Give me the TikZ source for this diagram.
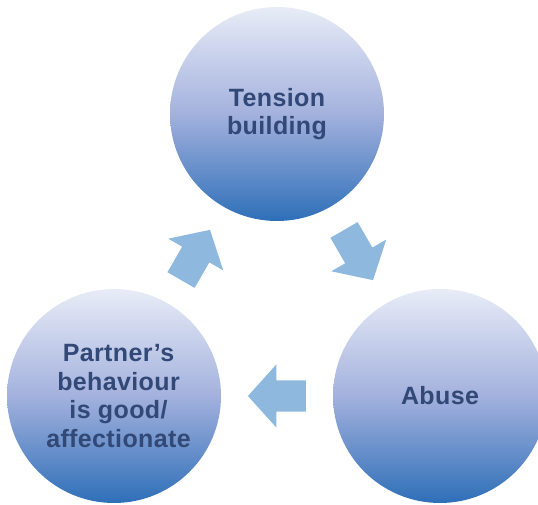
\documentclass[tikz,border=0pt]{standalone}
\usepackage{fontspec}
\setmainfont{Liberation Sans}[LetterSpace=1.5]
\usetikzlibrary{shapes.arrows,calc}
\definecolor{phasetop}{RGB}{232,236,247}
\definecolor{phasemid}{RGB}{163,177,221}
\definecolor{phasebot}{RGB}{46,111,184}
\definecolor{phasetext}{RGB}{50,72,118}
\definecolor{turnblue}{RGB}{143,184,222}

\begin{document}
\begin{tikzpicture}[x=1pt, y=1pt,
    phase/.style={circle, minimum size=214pt, inner sep=0pt,
        top color=phasetop, bottom color=phasebot, middle color=phasemid},
    phasefont/.style={text=phasetext, align=center,
        font=\fontsize{25}{28.5}\selectfont\bfseries},
    turn/.style={single arrow, fill=turnblue, inner xsep=0pt, inner ysep=15.5pt,
        minimum height=58pt, minimum width=63pt,
        single arrow head extend=16pt, single arrow tip angle=96}]
    \useasboundingbox (0,0) rectangle (538,505);
    % the three phases
    \node[phase, phasefont] (tension) at (277,391) {Tension\\building};
    \node[phase, phasefont] (abuse) at (440,109) {Abuse};
    \node[phase, label={[phasefont, xshift=4.5pt]center:Partner’s\\behaviour\\is good/\\affectionate}] (calm) at (114,109) {};
    % arrows between them
    \node[turn, rotate=-60, xshift=-7pt] (turnA) at ($(tension)!0.5!(abuse)$) {};
    \node[turn, rotate=180, xshift=-7pt] (turnB) at ($(abuse)!0.5!(calm)$) {};
    \node[turn, rotate=60, xshift=-7pt] (turnC) at ($(calm)!0.5!(tension)$) {};
\end{tikzpicture}
\end{document}
